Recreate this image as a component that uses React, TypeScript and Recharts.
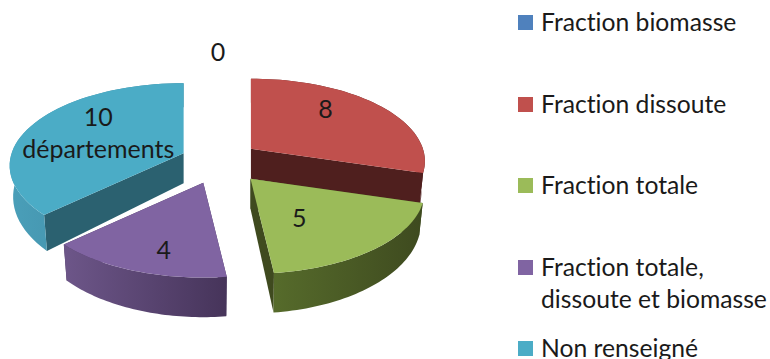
import { PieChart, Pie, Legend } from 'recharts';

const CATEGORIES = [
  'Fraction biomasse',
  'Fraction dissoute',
  'Fraction totale',
  'Fraction totale, dissoute et biomasse',
  'Non renseigné',
];
const LEGEND_LINES = [
  ['Fraction biomasse'],
  ['Fraction dissoute'],
  ['Fraction totale'],
  ['Fraction totale,', 'dissoute et biomasse'],
  ['Non renseigné'],
];
const VALUES = [0, 8, 5, 4, 10];
const COLORS = ['#4f81bd', '#c0504d', '#9bbb59', '#8064a2', '#4bacc6'];
const SIDE_COLORS = ['#2c4a6e', '#4f1f1e', '#3f4a1f', '#46345a', '#2b6170'];
const WALL_LIGHT = ['#3f6797', '#6e2c2a', '#566b2b', '#6d5689', '#4a9fb9'];
const WALL_DARK = ['#2c4a6e', '#4f1f1e', '#3e4a1f', '#46345a', '#3a8199'];
const LABEL_LINES = [['0'], ['8'], ['5'], ['4'], ['10', 'départements']];

// how far along the radius each label sits, horizontally and vertically
const LABEL_X = [0, 0.54, 0.44, 0.67, 0.54];
const LABEL_Y = [1.1, 0.84, 0.61, 0.87, 0.67];

const FONT = 'Lato, sans-serif';
const TEXT_COLOR = '#1a1a1a';

// fake 3D settings
const RY_RATIO = 0.469;
const PERSPECTIVE = 0.15;
const DEPTH = 30;
const BOTTOM_SCALE = 0.98;
const EXPLODE_X = 42;
const EXPLODE_Y = 22;
const RAD = Math.PI / 180;

const data = CATEGORIES.map((name, i) => ({ name, value: VALUES[i], fill: COLORS[i] }));

// recharts angles run counter clockwise from 3 o'clock, here it's clockwise from 12
const toClock = (angle: number) => 90 - angle;

function apex(cx: number, cy: number, midAngle: number) {
  const t = toClock(midAngle) * RAD;
  const w = 1 / (1 + PERSPECTIVE * Math.cos(t));
  return { x: cx + EXPLODE_X * Math.sin(t) * w, y: cy - EXPLODE_Y * Math.cos(t) };
}

function project(
  origin: { x: number; y: number },
  rx: number,
  clock: number,
  r: number,
  bottom = false,
) {
  const t = clock * RAD;
  const dx = r * Math.sin(t);
  const dy = -r * Math.cos(t);
  const w = 1 / (1 - PERSPECTIVE * dy);
  const s = bottom ? BOTTOM_SCALE : 1;
  return {
    x: origin.x + rx * dx * w * s,
    y: origin.y + rx * RY_RATIO * dy * w * s + (bottom ? DEPTH * w * w : 0),
  };
}

const toPath = (pts: { x: number; y: number }[]) =>
  pts.map((p, i) => `${i ? 'L' : 'M'}${p.x.toFixed(2)},${p.y.toFixed(2)}`).join(' ') + ' Z';

function Slice3D(props: any) {
  const { cx, cy, outerRadius, startAngle, endAngle, midAngle, index } = props;
  const from = toClock(startAngle);
  const to = toClock(endAngle);
  if (Math.abs(to - from) < 0.01) return <g />;

  const origin = apex(cx, cy, midAngle);
  const steps = 48;
  const top = [];
  const bottom = [];
  for (let i = 0; i <= steps; i++) {
    const a = from + ((to - from) * i) / steps;
    top.push(project(origin, outerRadius, a, 1));
    bottom.push(project(origin, outerRadius, a, 1, true));
  }
  const centerTop = project(origin, outerRadius, from, 0);
  const centerBottom = project(origin, outerRadius, from, 0, true);
  const gradId = `wall-${index}`;

  return (
    <g>
      <defs>
        <linearGradient id={gradId} x1="0" y1="0" x2="1" y2="0">
          <stop offset="0%" stopColor={WALL_LIGHT[index]} />
          <stop offset="100%" stopColor={WALL_DARK[index]} />
        </linearGradient>
      </defs>
      <path d={toPath([centerTop, top[0], bottom[0], centerBottom])} fill={SIDE_COLORS[index]} />
      <path
        d={toPath([centerTop, top[steps], bottom[steps], centerBottom])}
        fill={SIDE_COLORS[index]}
      />
      <path d={toPath([...top, ...[...bottom].reverse()])} fill={`url(#${gradId})`} />
      <path d={toPath([centerTop, ...top])} fill={COLORS[index]} />
    </g>
  );
}

function SliceLabel(props: any) {
  const { cx, cy, outerRadius, midAngle, index } = props;
  const origin = apex(cx, cy, midAngle);
  const t = toClock(midAngle) * RAD;
  const x = origin.x + outerRadius * LABEL_X[index] * Math.sin(t);
  const y = origin.y - outerRadius * RY_RATIO * LABEL_Y[index] * Math.cos(t);
  const lines = LABEL_LINES[index];
  const lineHeight = 32;
  return (
    <text
      x={index === 0 ? x - 2 : x}
      y={y - ((lines.length - 1) * lineHeight) / 2}
      textAnchor="middle"
      dominantBaseline="central"
      fontFamily={FONT}
      fontSize={25}
      fill={TEXT_COLOR}
      style={{ fontVariantLigatures: 'none' }}
    >
      {lines.map((line, i) => (
        <tspan key={line} x={index === 0 ? x - 2 : x} dy={i ? lineHeight : 0}>
          {line}
        </tspan>
      ))}
    </text>
  );
}

function SideLegend() {
  return (
    <div
      style={{
        fontFamily: FONT,
        fontSize: 24.7,
        lineHeight: '32px',
        color: TEXT_COLOR,
        fontVariantLigatures: 'none',
      }}
    >
      {data.map((item, i) => (
        <div
          key={item.name}
          style={{ position: 'absolute', left: 0, top: i * 81.5, width: 252, display: 'flex' }}
        >
          <span
            style={{
              width: 15,
              height: 15,
              marginTop: 9,
              marginRight: 8,
              flexShrink: 0,
              background: item.fill,
            }}
          />
          <span style={{ whiteSpace: 'nowrap' }}>
            {LEGEND_LINES[i].map((line) => (
              <div key={line}>{line}</div>
            ))}
          </span>
        </div>
      ))}
    </div>
  );
}

export default function App() {
  return (
    <div style={{ position: 'absolute', left: 0, top: 0, width: 770, height: 359, overflow: 'hidden' }}>
      <PieChart width={770} height={359} margin={{ top: 0, right: 0, bottom: 0, left: 0 }}>
        <Pie
          data={data}
          dataKey="value"
          nameKey="name"
          cx={220}
          cy={162}
          outerRadius={172}
          startAngle={90}
          endAngle={-270}
          stroke="none"
          shape={Slice3D}
          label={SliceLabel}
          labelLine={false}
          isAnimationActive={false}
        />
        <Legend
          content={SideLegend}
          wrapperStyle={{ position: 'absolute', left: 518, top: 6, width: 252, height: 340 }}
        />
      </PieChart>
    </div>
  );
}
